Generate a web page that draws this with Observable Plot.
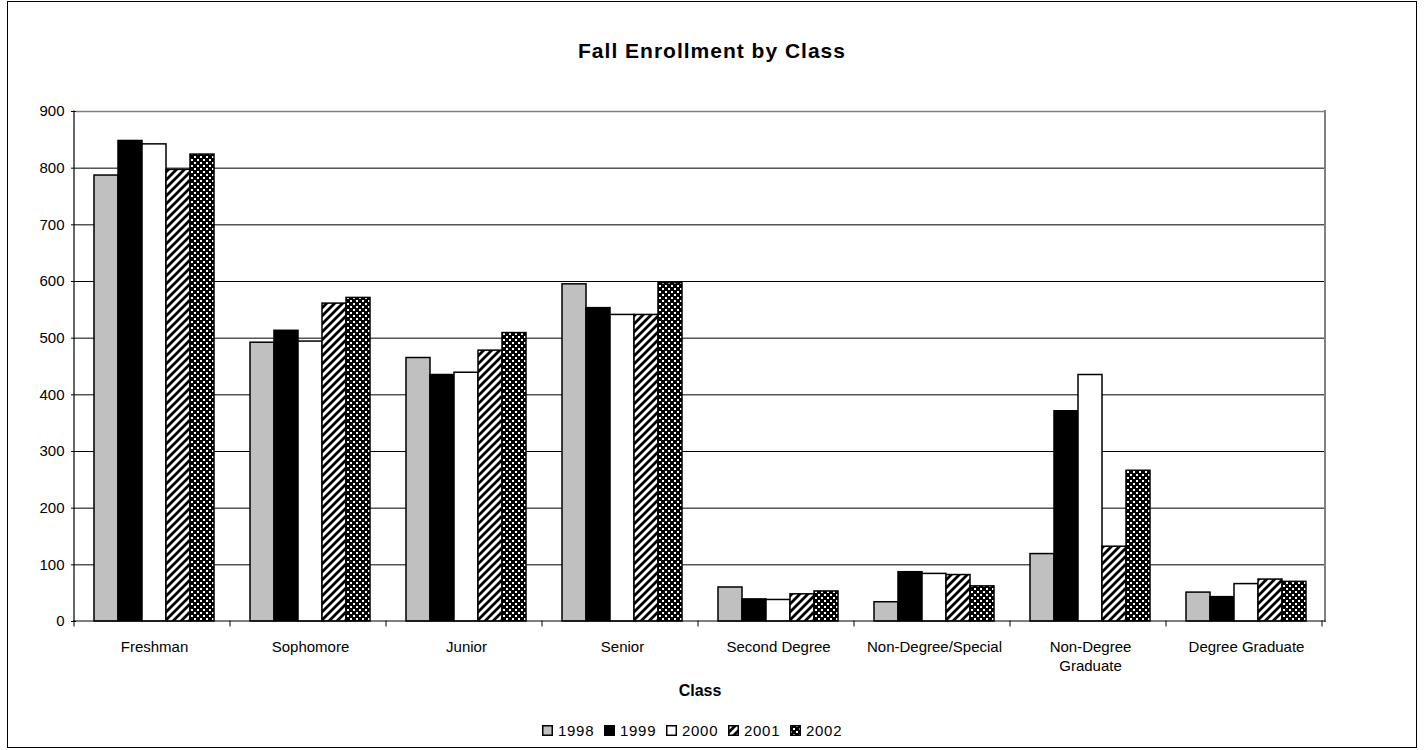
<!DOCTYPE html>
<html>
<head>
<meta charset="utf-8">
<script src="https://cdn.jsdelivr.net/npm/d3@7"></script>
<script src="https://cdn.jsdelivr.net/npm/@observablehq/plot@0.6"></script>
<style>
  html, body { margin: 0; padding: 0; background: #fff; overflow: hidden; }
  #wrap { position: relative; width: 1425px; height: 750px; font-family: "Liberation Sans", Arial, sans-serif; }
  #chart { position: absolute; left: 0; top: 0; }
  #border { position: absolute; left: 7px; top: 1px; width: 1410px; height: 747px; box-sizing: border-box; border: 1px solid #000; pointer-events: none; }
  #title { position: absolute; left: 7px; width: 1410px; top: 40px; text-align: center; font-weight: bold; font-size: 21px; line-height: 21px; letter-spacing: 1px; color: #000; }
  #xlabel { position: absolute; left: 600px; width: 200px; top: 683px; text-align: center; font-weight: bold; font-size: 16px; line-height: 16px; color: #000; }
  #legend { position: absolute; left: 542px; top: 722px; height: 16px; display: flex; align-items: center; font-size: 15px; letter-spacing: 0.7px; color: #000; }
  .item { width: 62px; display: flex; align-items: center; }
  .item svg { margin-right: 5px; display: block; }
</style>
</head>
<body>
<svg width="0" height="0" style="position:absolute">
  <defs>
    <pattern id="stripes" patternUnits="userSpaceOnUse" width="8" height="8">
      <rect width="8" height="8" fill="#fff"></rect>
      <path d="M-2,2 L2,-2 M0,8 L8,0 M6,10 L10,6" stroke="#000" stroke-width="2.8"></path>
    </pattern>
    <pattern id="dots" patternUnits="userSpaceOnUse" width="6" height="6">
      <rect width="6" height="6" fill="#000"></rect>
      <rect x="0" y="0" width="2" height="2" fill="#fff"></rect>
      <rect x="3" y="3" width="2" height="2" fill="#fff"></rect>
    </pattern>
  </defs>
</svg>
<div id="wrap">
  <div id="chart"></div>
  <div id="title">Fall Enrollment by Class</div>
  <div id="xlabel">Class</div>
  <div id="legend"></div>
  <div id="border"></div>
</div>
<script>
const classes = ["Freshman", "Sophomore", "Junior", "Senior", "Second Degree", "Non-Degree/Special", "Non-Degree Graduate", "Degree Graduate"];
const classLabels = ["Freshman", "Sophomore", "Junior", "Senior", "Second Degree", "Non-Degree/Special", "Non-Degree\nGraduate", "Degree Graduate"];
const years = ["1998", "1999", "2000", "2001", "2002"];
const v1998 = [787, 492, 465, 595, 60, 34, 119, 51];
const v1999 = [848, 513, 435, 553, 39, 87, 371, 43];
const v2000 = [842, 494, 439, 541, 38, 84, 435, 66];
const v2001 = [797, 561, 478, 541, 48, 82, 132, 74];
const v2002 = [824, 571, 509, 597, 53, 62, 266, 70];
const yTicks = [0, 100, 200, 300, 400, 500, 600, 700, 800, 900];
const yearFills = ["#C0C0C0", "#000000", "#FFFFFF", "url(#stripes)", "url(#dots)"];

const series = [v1998, v1999, v2000, v2001, v2002];
const data = [];
classes.forEach((c, i) => years.forEach((yr, j) => data.push({cls: c, year: yr, value: series[j][i]})));
const labelOf = new Map(classes.map((c, i) => [c, classLabels[i]]));

const chart = Plot.plot({
  width: 1425,
  height: 750,
  marginLeft: 74,
  marginRight: 100,
  marginTop: 111,
  marginBottom: 129,
  style: {fontFamily: "'Liberation Sans', Arial, sans-serif", fontSize: "15px", color: "#000", background: "transparent"},
  fx: {domain: classes, padding: 0, label: null},
  x: {domain: years, paddingInner: 0, paddingOuter: 0.73, axis: null},
  y: {domain: [0, 900], label: null},
  color: {domain: years, range: yearFills},
  marks: [
    Plot.gridY(yTicks.filter(t => t > 0 && t < 900), {stroke: "#000", strokeOpacity: 1, strokeWidth: 1}),
    Plot.ruleY([900], {stroke: "#808080", strokeWidth: 1.5}),
    Plot.barY(data, {fx: "cls", x: "year", y: "value", fill: "year", stroke: "#000", strokeWidth: 1.5, insetLeft: 0, insetRight: 0}),
    Plot.axisY({ticks: yTicks, tickSize: 5, tickPadding: 7, fontSize: 15, label: null, stroke: "#000"}),
    Plot.axisFx({anchor: "bottom", tickSize: 0, tickPadding: 17, fontSize: 15, lineHeight: 1.27, tickFormat: d => labelOf.get(d), label: null})
  ]
});
document.getElementById("chart").appendChild(chart);

// axis decorations (lines and boundary ticks) from the plot's scales
const fx = chart.scale("fx");
const ys = chart.scale("y");
const svg = d3.select(chart);
const y0 = ys.apply(0), yTop = ys.apply(900);
const left = fx.range[0], right = fx.range[1];
const g = svg.append("g").attr("stroke-linecap", "square");
g.append("line").attr("x1", right).attr("x2", right).attr("y1", yTop).attr("y2", y0).attr("stroke", "#808080").attr("stroke-width", 2);
g.append("line").attr("x1", left).attr("x2", left).attr("y1", yTop).attr("y2", y0).attr("stroke", "#000").attr("stroke-width", 1.2);
g.append("line").attr("x1", left).attr("x2", right).attr("y1", y0).attr("y2", y0).attr("stroke", "#000").attr("stroke-width", 1.2);
for (let i = 0; i <= classes.length; i++) {
  const x = left + i * fx.step;
  g.append("line").attr("x1", x).attr("x2", x).attr("y1", y0).attr("y2", y0 + 5).attr("stroke", "#000").attr("stroke-width", 1);
}

// legend
const legend = d3.select("#legend");
years.forEach((yr, j) => {
  const it = legend.append("div").attr("class", "item");
  const s = it.append("svg").attr("width", 11).attr("height", 11);
  s.append("rect").attr("x", 0.75).attr("y", 0.75).attr("width", 9.5).attr("height", 9.5).attr("fill", yearFills[j]).attr("stroke", "#000").attr("stroke-width", 1.5);
  it.append("span").text(yr);
});
</script>
</body>
</html>
